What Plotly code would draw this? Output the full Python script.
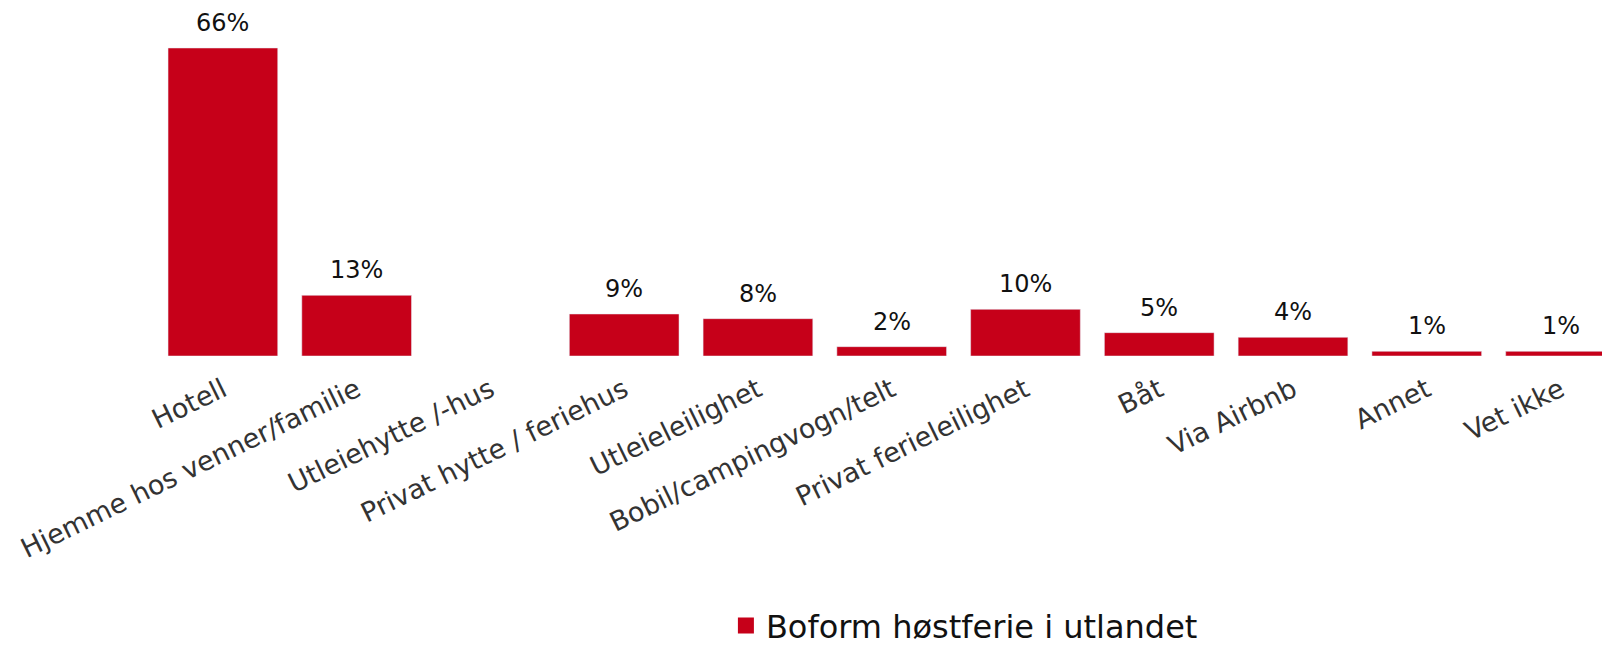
import plotly.graph_objects as go

# kategorier og andeler (%)
kategorier = ['Hotell', 'Hjemme hos venner/familie', 'Utleiehytte /-hus', 'Privat hytte / feriehus',
              'Utleieleilighet', 'Bobil/campingvogn/telt', 'Privat ferieleilighet', 'Båt',
              'Via Airbnb', 'Annet', 'Vet ikke']
andel = [66, 13, None, 9, 8, 2, 10, 5, 4, 1, 1]
serie = 'Boform høstferie i utlandet'
rod = '#C60019'

fig = go.Figure()
fig.add_trace(go.Bar(
    x=kategorier, y=andel, name=serie, showlegend=False,
    marker=dict(color=rod),
))
# legendeoppføring med større firkant
fig.add_trace(go.Scatter(
    x=[None], y=[None], name=serie, mode='markers',
    marker=dict(symbol='square', size=17, color=rod),
))

# verdietiketter over søylene
for k, v in zip(kategorier, andel):
    if v is None:
        continue
    fig.add_annotation(x=k, y=v, text=f'{v}%', showarrow=False,
                       yanchor='bottom', yshift=9,
                       font=dict(size=24, color='#111111'))

fig.update_layout(
    width=1602, height=645,
    font=dict(family='Verdana, DejaVu Sans, sans-serif'),
    plot_bgcolor='white', paper_bgcolor='white',
    margin=dict(l=156, r=0, t=20, b=289, autoexpand=False),
    bargap=0.18,
    showlegend=True,
    legend=dict(orientation='h', xref='container', yref='container',
                x=0.602, xanchor='center', y=0.03, yanchor='middle',
                font=dict(size=32, color='#111111')),
    xaxis=dict(range=[-0.5, 10.31], tickangle=-26, showline=False, showgrid=False,
               automargin=False,
               tickfont=dict(size=27, color='#333333'), ticklabelstandoff=12),
    yaxis=dict(range=[0, 72], visible=False, automargin=False),
)

fig.write_html('out.html', config={'displayModeBar': False},
               post_script="document.body.style.margin='0';")
